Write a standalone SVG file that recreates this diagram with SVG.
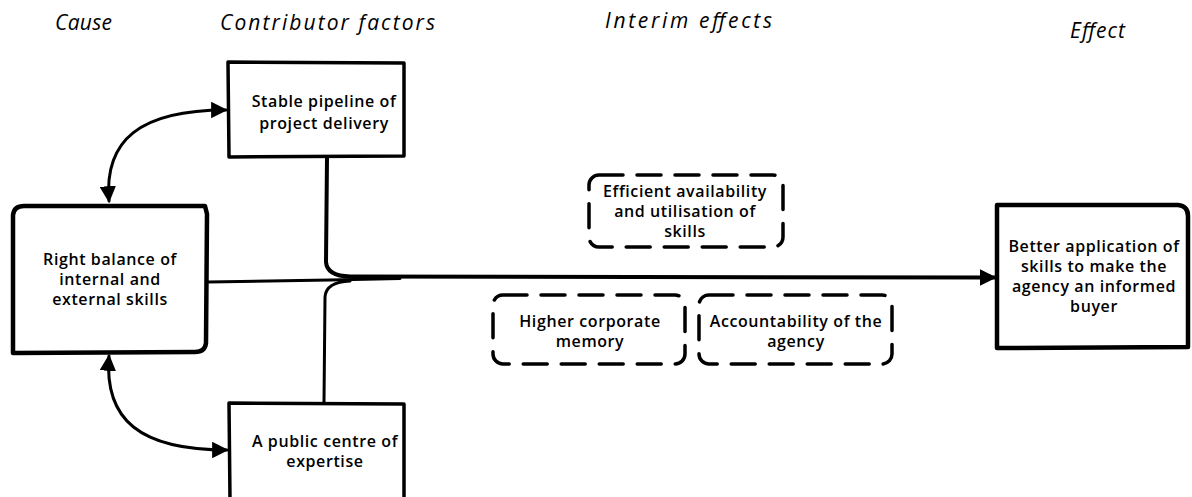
<svg xmlns="http://www.w3.org/2000/svg" width="1192" height="497" viewBox="0 0 1192 497">
  <style>
    .hdr { font-family: "Open Sans", "DejaVu Sans", sans-serif; font-style: italic; font-size: 21px; fill: #000; }
    .lbl { font-family: "Open Sans", "DejaVu Sans", sans-serif; font-weight: 600; font-size: 16px; fill: #000; text-anchor: middle; letter-spacing: 0.6px; }
    .solid { fill: #fff; stroke: #000; stroke-width: 4.5; stroke-linejoin: round; stroke-linecap: round; }
    .thin { fill: #fff; stroke: #000; stroke-width: 3.5; stroke-linejoin: round; stroke-linecap: round; }
    .dash { fill: #fff; stroke: #000; stroke-width: 3.5; stroke-dasharray: 24 14; stroke-linecap: round; }
    .wire { fill: none; stroke: #000; stroke-width: 3; stroke-linecap: round; }
    .main { fill: none; stroke: #000; stroke-width: 4; stroke-linecap: round; }
  </style>
  <defs>
    <marker id="head" viewBox="0 0 10 10" refX="9" refY="5" markerWidth="5.5" markerHeight="5.5" orient="auto-start-reverse" markerUnits="strokeWidth">
      <path d="M0,0 L10,5 L0,10 Z" fill="#000"/>
    </marker>
    <marker id="headMain" viewBox="0 0 10 10" refX="9" refY="5" markerWidth="4.2" markerHeight="4.2" orient="auto" markerUnits="strokeWidth">
      <path d="M0,0 L10,5 L0,10 Z" fill="#000"/>
    </marker>
  </defs>

  <rect width="1192" height="497" fill="#fff"/>

  <!-- column headings -->
  <g id="headings">
    <text class="hdr" x="55" y="30" textLength="57">Cause</text>
    <text class="hdr" x="220" y="30" textLength="215">Contributor factors</text>
    <text class="hdr" x="605" y="28" textLength="167">Interim effects</text>
    <text class="hdr" x="1070" y="38" textLength="55">Effect</text>
  </g>

  <!-- connectors -->
  <g id="connectors">
    <path class="wire" d="M109,201 C104,140 140,110 226,110" marker-start="url(#head)" marker-end="url(#head)"/>
    <path class="wire" d="M109,356 C104,420 140,450 227,450" marker-start="url(#head)" marker-end="url(#head)"/>
    <path class="main" d="M327,158 L326,262 Q327,276 350,276.5 L995,277.5" marker-end="url(#headMain)"/>
    <path class="wire" d="M208,282 L330,280 L400,278.5"/>
    <path class="wire" d="M324,402 L325,297 Q326,282 350,281"/>
  </g>

  <g id="cause">
    <path class="solid" d="M13,215 Q14,206 24,206 L205,206 L207,214 L206,343 Q205,352 195,352 L13,353 Z"/>
    <text class="lbl" x="110" y="265">Right balance of</text>
    <text class="lbl" x="110" y="285">internal and</text>
    <text class="lbl" x="110" y="305">external skills</text>
  </g>

  <g id="pipeline">
    <path class="thin" d="M228,62 L404,63 L404,156 L229,157 Z"/>
    <text class="lbl" x="324" y="107">Stable pipeline of</text>
    <text class="lbl" x="324" y="129">project delivery</text>
  </g>

  <g id="expertise">
    <path class="thin" d="M229,403 L404,404 L404,499 L230,499 Z"/>
    <text class="lbl" x="325" y="447">A public centre of</text>
    <text class="lbl" x="325" y="467">expertise</text>
  </g>

  <g id="efficient">
    <rect class="dash" x="589" y="175" width="194" height="72" rx="10"/>
    <text class="lbl" x="685" y="197">Efficient availability</text>
    <text class="lbl" x="685" y="217">and utilisation of</text>
    <text class="lbl" x="685" y="237">skills</text>
  </g>

  <g id="memory">
    <rect class="dash" x="493" y="295" width="192" height="69" rx="10"/>
    <text class="lbl" x="590" y="327">Higher corporate</text>
    <text class="lbl" x="590" y="347">memory</text>
  </g>

  <g id="accountability">
    <rect class="dash" x="699" y="295" width="193" height="69" rx="10"/>
    <text class="lbl" x="796" y="327">Accountability of the</text>
    <text class="lbl" x="796" y="347">agency</text>
  </g>

  <g id="effect">
    <path class="solid" d="M997,205 L1178,205 Q1188,206 1188,216 L1188,347 L997,348 Z"/>
    <text class="lbl" x="1094" y="252">Better application of</text>
    <text class="lbl" x="1094" y="272">skills to make the</text>
    <text class="lbl" x="1094" y="292">agency an informed</text>
    <text class="lbl" x="1094" y="312">buyer</text>
  </g>
</svg>
